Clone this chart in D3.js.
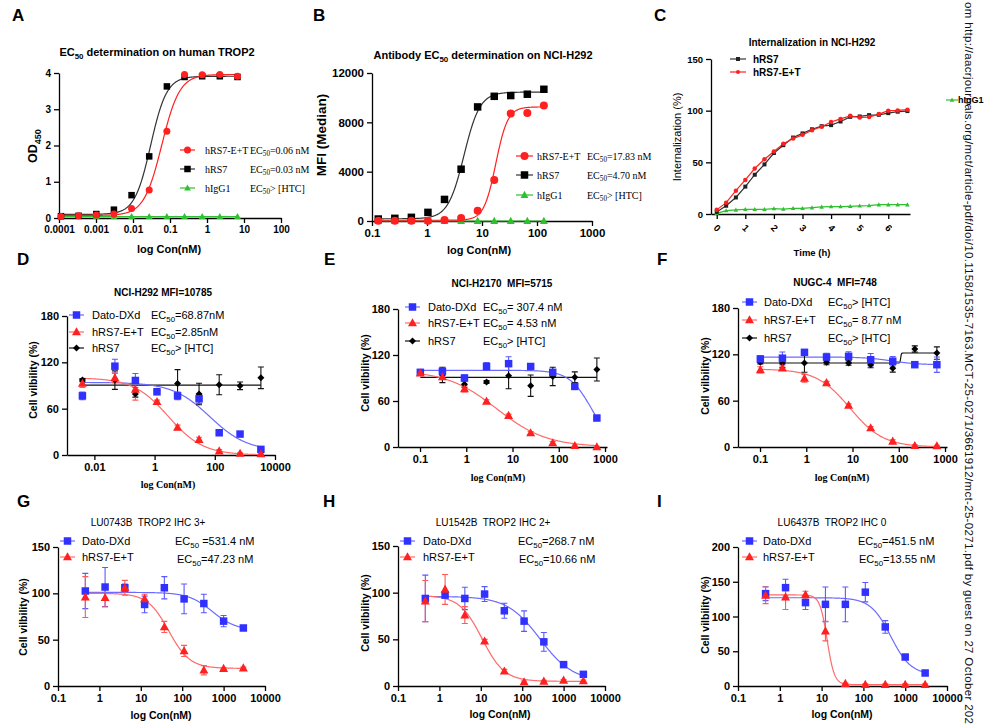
<!DOCTYPE html>
<html>
<head>
<meta charset="utf-8">
<script src="https://cdn.jsdelivr.net/npm/d3@7/dist/d3.min.js"></script>
<style>
html,body{margin:0;padding:0;background:#fff;}
svg{display:block;}
</style>
</head>
<body>
<svg id="chart" width="1000" height="727"></svg>
<script>
// ================= DATA =================
// Panel A: ELISA on human TROP2
const concA = [0.000113, 0.000339, 0.00102, 0.00305, 0.00914, 0.0274, 0.0823, 0.247, 0.741, 2.22, 6.67];
const odA_hRS7ET = [0.04, 0.06, 0.08, 0.11, 0.26, 0.77, 2.39, 3.96, 3.95, 3.96, 3.91];
const odA_hRS7   = [0.05, 0.06, 0.11, 0.23, 0.63, 1.70, 3.63, 3.89, 3.91, 3.91, 3.89];
const odA_hIgG1  = [0.04, 0.04, 0.04, 0.04, 0.04, 0.04, 0.04, 0.04, 0.04, 0.04, 0.04];
// fit parameters: [low-conc plateau, high-conc plateau, EC50, Hill]
const fitA_hRS7ET = [0.07, 3.96, 0.06, 1.8];
const fitA_hRS7   = [0.10, 3.91, 0.03, 2.0];
const xTicksA = ["0.0001", "0.001", "0.01", "0.1", "1", "10", "100"];
const yTicksA = [0, 1, 2, 3, 4];
const legendA = ["hRS7-E+T", "hRS7", "hIgG1"];
const ecA = ["EC_{50}=0.06 nM", "EC_{50}=0.03 nM", "EC_{50}> [HTC]"];

// Panel B: FACS on NCI-H292
const concB = [0.13, 0.26, 0.52, 1.04, 2.08, 4.17, 8.33, 16.7, 33.3, 66.7, 133.3];
const mfiB_hRS7ET = [30, 30, 30, 30, 80, 240, 840, 3320, 8710, 8760, 9360];
const mfiB_hRS7   = [160, 216, 297, 700, 1750, 4200, 9250, 10110, 10170, 10280, 10680];
const mfiB_hIgG1  = [0, 0, 0, 0, 0, 0, 0, 0, 0, 0, 0];
const fitB_hRS7ET = [60, 9250, 17.83, 4.0];
const fitB_hRS7   = [180, 10450, 4.70, 3.0];
const xTicksB = ["0.1", "1", "10", "100", "1000"];
const yTicksB = [0, 4000, 8000, 12000];
const legendB = ["hRS7-E+T", "hRS7", "hIgG1"];
const ecB = ["EC_{50}=17.83 nM", "EC_{50}=4.70 nM", "EC_{50}> [HTC]"];

// Panel C: internalization
const timeC = [0, 0.33, 0.67, 1, 1.33, 1.67, 2, 2.33, 2.67, 3, 3.33, 3.67, 4, 4.33, 4.67, 5, 5.33, 5.67, 6, 6.33, 6.67];
const intC_hRS7   = [2, 8, 16, 26.5, 38, 48, 59, 66.6, 74, 78, 82, 85, 86, 89.5, 94, 94.4, 95.7, 96, 97.6, 99, 99.6];
const intC_hRS7ET = [4, 11, 22.6, 33, 44, 53, 60.5, 68, 73, 76.6, 81, 84.4, 89, 92, 95, 93.4, 93.8, 96.7, 100, 100.2, 101];
const intC_hIgG1  = [0.6, 3.2, 3.9, 4.5, 4.5, 4.5, 5.2, 4.8, 5.5, 5.5, 6.1, 6.8, 7.1, 7.1, 7.4, 7.8, 8.1, 9, 9, 9, 9];
const xTicksC = ["0", "1", "2", "3", "4", "5", "6"];
const yTicksC = [0, 50, 100, 150];
const legendC = ["hRS7", "hRS7-E+T", "hIgG1"];

// Panel D: NCI-H292 cytotoxicity
const concD = [0.004, 0.048, 0.23, 1.2, 5.8, 30, 140, 690, 3400];
const vD_dato   = [76.6, 115, 96.5, 81.8, 76.6, 72.8, 28.8, 27.1, 7.3];
const eD_dato   = [5, 9, 9, 2, 5, 6, 2, 2, 2];
const vD_hRS7ET = [92.6, 100, 85, 69, 35.7, 20, 5, 2, 1.3];
const eD_hRS7ET = [5, 6, 14, 2, 3, 3, 2, 1, 1];
const vD_hRS7   = [97, 97, 79, 83, 92.6, 79, 91, 89.6, 100];
const eD_hRS7   = [2, 12, 4, 3, 18, 14, 13, 5, 14];
const fitD_dato   = [94, 5, 68.87, 0.7];
const fitD_hRS7ET = [100, 0, 2.85, 0.75];
const fitD_hRS7   = [90.4, 90.4, 1, 1];
const xTicksD = ["0.01", "1", "100", "10000"];
const yTicksDEF = [0, 60, 120, 180];
const legendDEF = ["Dato-DXd", "hRS7-E+T", "hRS7"];
const ecD = ["EC_{50}=68.87nM", "EC_{50}=2.85nM", "EC_{50}> [HTC]"];

// Panel E: NCI-H2170 cytotoxicity
const concEF = [0.1016, 0.305, 0.914, 2.743, 8.23, 24.69, 74.07, 222.2, 666.7];
const vE_dato   = [97.4, 98.7, 90, 105, 108.7, 105, 97.4, 79, 37.8];
const eE_dato   = [2, 4, 4, 5, 9, 2, 3, 3, 2];
const vE_hRS7ET = [96.5, 91.3, 75.7, 59.6, 40.9, 18.3, 5.2, 1.7, 0];
const eE_hRS7ET = [2, 3, 4, 2, 2, 2, 2, 1, 1];
const vE_hRS7   = [97, 94, 82, 84.8, 93, 80, 92, 91, 101];
const eE_hRS7   = [0, 10, 4, 2, 17, 14, 12, 7, 15];
const fitE_dato   = [100, 0, 510, 1.8];
const fitE_hRS7ET = [100, 0, 4.53, 0.8];
const fitE_hRS7   = [90.9, 90.9, 1, 1];
const xTicksEF = ["0.1", "1", "10", "100", "1000"];
const ecE = ["EC_{50}= 307.4 nM", "EC_{50}= 4.53 nM", "EC_{50}> [HTC]"];

// Panel F: NUGC-4 cytotoxicity
const vF_dato   = [114, 115, 122.6, 116.5, 117.4, 113, 111, 106.6, 106.6];
const eF_dato   = [4, 8, 3, 5, 6, 8, 6, 2, 10];
const vF_hRS7ET = [100, 102, 89, 83, 54, 24.6, 7.3, 1.7, 1.3];
const eF_hRS7ET = [4, 3, 5, 2, 2, 2, 2, 1, 1];
const vF_hRS7   = [109.6, 108.8, 108.8, 109.6, 108.8, 106.6, 102, 126.9, 121.7];
const eF_hRS7   = [2, 6, 12, 3, 3, 4, 5, 4, 8];
const fitF_dato   = [116.5, 106.5, 70, 1.5];
const fitF_hRS7ET = [101, 0, 8.77, 1.2];
const fitF_hRS7   = [108.8, 121.7, 110, 60];
const ecF = ["EC_{50}> [HTC]", "EC_{50}= 8.77 nM", "EC_{50}> [HTC]"];

// Panels G, H, I: PDX-derived cells
const concGHI = [0.457, 1.372, 4.115, 12.35, 37.04, 111.1, 333.3, 1000, 3000];
const vG_dato   = [102.5, 106.8, 106, 88, 106, 94, 89, 70, 62.6];
const eG_dato   = [19, 21, 4, 9, 12, 16, 10, 6, 2];
const vG_hRS7ET = [96, 95.3, 106, 94, 63.7, 37.8, 17, 18.7, 19.4];
const eG_hRS7ET = [22, 10, 8, 5, 6, 6, 5, 1, 1];
const fitG_dato   = [101, 60, 531.4, 1.5];
const fitG_hRS7ET = [100, 19, 47.23, 1.7];
const ecG = ["EC_{50} =531.4 nM", "EC_{50}=47.23 nM"];

const vH_dato   = [93.8, 97.4, 93.8, 98.5, 80.6, 69.5, 47.3, 22.9, 12.5];
const eH_dato   = [25, 3, 12, 8, 8, 11, 10, 3, 3];
const vH_hRS7ET = [91, 103.5, 76, 48, 15.8, 4.3, 5, 6, 5.4];
const eH_hRS7ET = [22, 16, 9, 2, 2, 1, 1, 1, 1];
const fitH_dato   = [96, 5, 268.7, 1.1];
const fitH_hRS7ET = [97, 5, 10.66, 1.6];
const ecH = ["EC_{50}=268.7 nM", "EC_{50}=10.66 nM"];

const vI_dato   = [132.9, 141.5, 120, 117.5, 117.5, 135, 85, 41.7, 18.7];
const eI_dato   = [10, 12, 10, 25, 25, 14, 9, 3, 2];
const vI_hRS7ET = [130.5, 128, 131.4, 79, 3.4, 2, 2, 2, 2];
const eI_hRS7ET = [12, 18, 5, 14, 1, 1, 1, 1, 1];
const fitI_dato   = [127, 16, 451.5, 1.8];
const fitI_hRS7ET = [131, 2, 13.55, 5];
const ecI = ["EC_{50}=451.5 nM", "EC_{50}=13.55 nM"];

const xTicksGHI = ["0.1", "1", "10", "100", "1000", "10000"];
const yTicksGH = [0, 50, 100, 150];
const yTicksI = [0, 50, 100, 150, 200];
const legendGHI = ["Dato-DXd", "hRS7-E+T"];

const titles = ["EC_{50} determination on human TROP2", "Antibody EC_{50} determination on NCI-H292",
  "Internalization in NCI-H292", "NCI-H292 MFI=10785", "NCI-H2170  MFI=5715", "NUGC-4  MFI=748",
  "LU0743B  TROP2 IHC 3+", "LU1542B  TROP2 IHC 2+", "LU6437B  TROP2 IHC 0"];
const panelLetters = ["A", "B", "C", "D", "E", "F", "G", "H", "I"];
const watermark = "om http://aacrjournals.org/mct/article-pdf/doi/10.1158/1535-7163.MCT-25-0271/3661912/mct-25-0271.pdf by guest on 27 October 202";

// ================= DRAWING =================
const SANS = "'Liberation Sans', Arial, Helvetica, sans-serif";
const SERIF = "'Liberation Serif', 'Times New Roman', serif";
const BLUE = "#3030ff", BLUE_L = "#6b6bff", BLUE_E = "#5a5aff";
const RED = "#ff2020", RED_L = "#ff6a6a", RED_E = "#ff5a5a";
const GREEN = "#2fc02f", BLACK = "#000000";

const svg = d3.select("#chart");
svg.append("rect").attr("width", 1000).attr("height", 727).attr("fill", "#fff");

function symPath(type, s) {
  const h = s / 2;
  switch (type) {
    case "square": return `M${-h},${-h}h${s}v${s}h${-s}Z`;
    case "circle": return `M${h},0A${h},${h} 0 1,1 ${-h},0A${h},${h} 0 1,1 ${h},0Z`;
    case "triangle": return `M0,${-s * 0.6}L${s * 0.56},${s * 0.42}L${-s * 0.56},${s * 0.42}Z`;
    case "diamond": return `M0,${-h}L${h},0L0,${h}L${-h},0Z`;
  }
  return "";
}

function addText(g, x, y, str, o) {
  o = o || {};
  const size = o.size || 11;
  const yy = o.raw ? y : y + size * 0.35;
  const t = g.append("text").attr("x", x).attr("y", yy)
    .attr("text-anchor", o.anchor || "start")
    .style("font-family", o.family || SANS).style("font-size", size + "px")
    .style("font-weight", o.weight || "normal").style("white-space", "pre")
    .attr("fill", o.fill || "#000");
  if (o.rotate) t.attr("transform", `rotate(${o.rotate},${x},${y})`);
  const parts = str.split(/_\{([^}]*)\}/);
  let shift = 0;
  parts.forEach((p, i) => {
    if (p === "") return;
    const ts = t.append("tspan").text(p);
    if (i % 2 === 1) { ts.style("font-size", (size * 0.72) + "px").attr("dy", size * 0.28); shift = size * 0.28; }
    else if (shift) { ts.attr("dy", -shift); shift = 0; }
  });
  return t;
}

function styleAxis(sel, fs) {
  sel.attr("font-family", null).attr("font-size", null);
  sel.select(".domain").attr("stroke", "#000").attr("stroke-width", 1.3);
  sel.selectAll(".tick line").attr("stroke", "#000").attr("stroke-width", 1.3);
  sel.selectAll(".tick text").style("font-size", fs + "px").style("font-weight", "bold")
    .style("font-family", SANS).attr("fill", "#000");
}

function drawPanel(p) {
  const g = svg.append("g");
  const x = (p.xLog ? d3.scaleLog() : d3.scaleLinear()).domain(p.xDom).range(p.xRange);
  const y = d3.scaleLinear().domain(p.yDom).range(p.yRange);
  const xVals = p.xTickLabels.map(Number);
  const xa = d3.axisBottom(x).tickValues(xVals).tickFormat(d => p.xTickLabels[xVals.indexOf(d)])
    .tickSizeInner(5).tickSizeOuter(0).tickPadding(3);
  const gx = g.append("g").attr("transform", `translate(0,${p.yRange[0]})`).call(xa);
  styleAxis(gx, p.tickFs);
  if (p.xRot) {
    gx.selectAll(".tick text").attr("text-anchor", "middle").attr("y", 14).attr("dy", "0.35em")
      .attr("transform", "rotate(45,0,14)");
  }
  const ya = d3.axisLeft(y).tickValues(p.yTicks).tickFormat(d3.format("d"))
    .tickSizeInner(5).tickSizeOuter(0).tickPadding(3);
  const gy = g.append("g").attr("transform", `translate(${p.xRange[0]},0)`).call(ya);
  styleAxis(gy, p.tickFs);

  const line = d3.line();
  // curves / connecting lines
  p.series.forEach(s => {
    let pts = null;
    if (s.fit) {
      const [lo, hi, ec, h] = s.fit;
      const [a, b] = d3.extent(s.x).map(Math.log10);
      pts = d3.range(401).map(i => {
        const xv = Math.pow(10, a + (b - a) * i / 400);
        return [x(xv), y(hi + (lo - hi) / (1 + Math.pow(xv / ec, h)))];
      });
    } else if (s.poly) {
      pts = s.x.map((xv, i) => [x(xv), y(s.y[i])]);
    }
    if (pts) g.append("path").attr("d", line(pts)).attr("fill", "none")
      .attr("stroke", s.lineColor).attr("stroke-width", s.lw || 1.2);
  });
  // error bars
  p.series.forEach(s => {
    if (!s.err) return;
    s.x.forEach((xv, i) => {
      const e = s.err[i]; if (!e) return;
      const cx = x(xv), y1 = y(s.y[i] - e), y2 = y(s.y[i] + e);
      g.append("path").attr("d", `M${cx},${y1}V${y2}M${cx - 3},${y1}H${cx + 3}M${cx - 3},${y2}H${cx + 3}`)
        .attr("stroke", s.errColor).attr("stroke-width", 1.1).attr("fill", "none");
    });
  });
  // markers
  p.series.forEach(s => {
    s.x.forEach((xv, i) => {
      g.append("path").attr("d", symPath(s.shape, s.size))
        .attr("transform", `translate(${x(xv)},${y(s.y[i])})`).attr("fill", s.color);
    });
  });
  // legend
  const L = p.legend;
  L.items.forEach((it, k) => {
    const s = p.series[it.si];
    const yy = it.y != null ? it.y : L.ys[k];
    const x0 = it.x0 != null ? it.x0 : L.x0, x1 = it.x1 != null ? it.x1 : L.x1;
    const tx = it.tx != null ? it.tx : L.tx;
    g.append("line").attr("x1", x0).attr("x2", x1).attr("y1", yy).attr("y2", yy)
      .attr("stroke", s.lineColor).attr("stroke-width", 1.2);
    g.append("path").attr("d", symPath(s.shape, L.msize || s.size))
      .attr("transform", `translate(${(x0 + x1) / 2},${yy})`).attr("fill", s.color);
    addText(g, tx, yy, it.label, { size: it.fs || L.fs, family: L.family, weight: L.weight });
    if (it.ec) {
      const ep = it.ecPos || [L.ex, yy];
      addText(g, ep[0], ep[1], it.ec, { size: L.fs, family: L.family, weight: L.weight });
    }
  });
  // texts
  addText(g, p.title[0], p.title[1], p.title[2], { size: p.title[3], weight: p.title[4], anchor: "middle" });
  addText(g, p.xTitle[0], p.xTitle[1], p.xTitle[2], { size: p.xTitle[3], weight: "bold", family: p.xTitle[4], anchor: "middle" });
  addText(g, p.yTitle[0], p.yTitle[1], p.yTitle[2], { size: p.yTitle[3], weight: p.yTitle[4], anchor: "middle", rotate: -90 });
  addText(g, p.letter[0], p.letter[1], p.letter[2], { size: 17, weight: "bold", raw: true });
}

const logC = "log Con(nM)";
const cellV = "Cell vilbility (%)";

// ---- A ----
drawPanel({
  xLog: true, xDom: [1e-4, 100], xRange: [59, 281], yDom: [0, 4], yRange: [218, 73],
  xTickLabels: xTicksA, yTicks: yTicksA, tickFs: 10,
  series: [
    { x: concA, y: odA_hIgG1, poly: true, shape: "triangle", size: 6, color: GREEN, lineColor: GREEN },
    { x: concA, y: odA_hRS7, fit: fitA_hRS7, shape: "square", size: 6.5, color: BLACK, lineColor: "#333" },
    { x: concA, y: odA_hRS7ET, fit: fitA_hRS7ET, shape: "circle", size: 7, color: RED, lineColor: RED }
  ],
  legend: { x0: 180, x1: 195, tx: 205, ex: 250, ys: [150, 169, 188], fs: 10, family: SERIF, weight: "normal",
    items: [{ si: 2, label: legendA[0], ec: ecA[0] }, { si: 1, label: legendA[1], ec: ecA[1] }, { si: 0, label: legendA[2], ec: ecA[2] }] },
  title: [157, 52, titles[0], 11, "bold"],
  xTitle: [169, 249, logC, 11, SANS],
  yTitle: [33, 146, "OD_{450}", 12.5, "bold"],
  letter: [12, 21, panelLetters[0]]
});

// ---- B ----
drawPanel({
  xLog: true, xDom: [0.1, 1000], xRange: [372, 592], yDom: [0, 12000], yRange: [221, 73],
  xTickLabels: xTicksB, yTicks: yTicksB, tickFs: 11.5,
  series: [
    { x: concB, y: mfiB_hIgG1, poly: true, shape: "triangle", size: 7, color: GREEN, lineColor: GREEN },
    { x: concB, y: mfiB_hRS7, fit: fitB_hRS7, shape: "square", size: 7.5, color: BLACK, lineColor: "#333" },
    { x: concB, y: mfiB_hRS7ET, fit: fitB_hRS7ET, shape: "circle", size: 8, color: RED, lineColor: RED }
  ],
  legend: { x0: 516, x1: 533, tx: 537, ex: 587, ys: [156, 175, 195], fs: 10, family: SERIF, weight: "normal",
    items: [{ si: 2, label: legendB[0], ec: ecB[0] }, { si: 1, label: legendB[1], ec: ecB[1] }, { si: 0, label: legendB[2], ec: ecB[2] }] },
  title: [483, 55, titles[1], 11, "bold"],
  xTitle: [479, 250, logC, 11, SANS],
  yTitle: [321, 135, "MFI (Median)", 13.5, "bold"],
  letter: [313, 21, panelLetters[1]]
});

// ---- C ----
drawPanel({
  xLog: false, xDom: [-0.2, 6.76], xRange: [711, 910], yDom: [0, 150], yRange: [214, 59],
  xTickLabels: xTicksC, yTicks: yTicksC, tickFs: 9.5, xRot: true,
  series: [
    { x: timeC, y: intC_hIgG1, poly: true, shape: "triangle", size: 4, color: GREEN, lineColor: GREEN },
    { x: timeC, y: intC_hRS7, poly: true, shape: "square", size: 4, color: "#222", lineColor: "#333" },
    { x: timeC, y: intC_hRS7ET, poly: true, shape: "circle", size: 4.5, color: RED, lineColor: RED }
  ],
  legend: { x0: 730, x1: 746, tx: 753, ys: [59, 72], fs: 10, family: SANS, weight: "bold", msize: 4,
    items: [{ si: 1, label: legendC[0] }, { si: 2, label: legendC[1] },
      { si: 0, label: legendC[2], x0: 946, x1: 958, tx: 958, y: 100, fs: 9 }] },
  title: [812, 42, titles[2], 10, "bold"],
  xTitle: [812, 253, "Time (h)", 9.5, SANS],
  yTitle: [677, 137, "Internalization (%)", 11, "normal"],
  letter: [654, 21, panelLetters[2]]
});

function cytoSeries(conc, vd, ed, fd, vr, er, fr, vb, eb, fb) {
  const s = [
    { x: conc, y: vd, err: ed, fit: fd, shape: "square", size: 7.5, color: BLUE, lineColor: BLUE_L, errColor: BLUE_E },
    { x: conc, y: vr, err: er, fit: fr, shape: "triangle", size: 8, color: RED, lineColor: RED_L, errColor: RED_E }
  ];
  if (vb) s.unshift({ x: conc, y: vb, err: eb, fit: fb, shape: "diamond", size: 7, color: BLACK, lineColor: "#111", errColor: "#111" });
  return s;
}

// ---- D ----
drawPanel({
  xLog: true, xDom: [Math.pow(10, -2.91), 1e4], xRange: [67, 275], yDom: [0, 180], yRange: [455, 316],
  xTickLabels: xTicksD, yTicks: yTicksDEF, tickFs: 11,
  series: cytoSeries(concD, vD_dato, eD_dato, fitD_dato, vD_hRS7ET, eD_hRS7ET, fitD_hRS7ET, vD_hRS7, eD_hRS7, fitD_hRS7),
  legend: { x0: 69, x1: 84, tx: 92, ex: 151, ys: [315, 332, 348], fs: 11, family: SANS, weight: "normal",
    items: [{ si: 1, label: legendDEF[0], ec: ecD[0] }, { si: 2, label: legendDEF[1], ec: ecD[1] }, { si: 0, label: legendDEF[2], ec: ecD[2] }] },
  title: [163, 292, titles[3], 10, "bold"],
  xTitle: [168, 484, logC, 10, SERIF],
  yTitle: [33, 380, cellV, 10.5, "bold"],
  letter: [17, 265, panelLetters[3]]
});

// ---- E ----
drawPanel({
  xLog: true, xDom: [Math.pow(10, -1.476), Math.pow(10, 3.043)], xRange: [398, 607], yDom: [0, 180], yRange: [447, 309],
  xTickLabels: xTicksEF, yTicks: yTicksDEF, tickFs: 11,
  series: cytoSeries(concEF, vE_dato, eE_dato, fitE_dato, vE_hRS7ET, eE_hRS7ET, fitE_hRS7ET, vE_hRS7, eE_hRS7, fitE_hRS7),
  legend: { x0: 405, x1: 420, tx: 428, ex: 483, ys: [307, 323, 341], fs: 11, family: SANS, weight: "normal",
    items: [{ si: 1, label: legendDEF[0], ec: ecE[0] }, { si: 2, label: legendDEF[1], ec: ecE[1] }, { si: 0, label: legendDEF[2], ec: ecE[2] }] },
  title: [502, 283, titles[4], 10, "bold"],
  xTitle: [498, 477, logC, 10, SERIF],
  yTitle: [365, 373, cellV, 10.5, "bold"],
  letter: [324, 265, panelLetters[4]]
});

// ---- F ----
drawPanel({
  xLog: true, xDom: [Math.pow(10, -1.476), Math.pow(10, 3.043)], xRange: [738, 947], yDom: [0, 180], yRange: [447, 308],
  xTickLabels: xTicksEF, yTicks: yTicksDEF, tickFs: 11,
  series: cytoSeries(concEF, vF_dato, eF_dato, fitF_dato, vF_hRS7ET, eF_hRS7ET, fitF_hRS7ET, vF_hRS7, eF_hRS7, fitF_hRS7),
  legend: { x0: 742, x1: 757, tx: 764, ex: 828, ys: [302, 320, 338], fs: 11, family: SANS, weight: "normal",
    items: [{ si: 1, label: legendDEF[0], ec: ecF[0] }, { si: 2, label: legendDEF[1], ec: ecF[1] }, { si: 0, label: legendDEF[2], ec: ecF[2] }] },
  title: [835, 282, titles[5], 10, "bold"],
  xTitle: [842, 477, logC, 10, SERIF],
  yTitle: [705, 376, cellV, 10.5, "bold"],
  letter: [657, 265, panelLetters[5]]
});

// ---- G ----
drawPanel({
  xLog: true, xDom: [0.1, 1e4], xRange: [58, 265], yDom: [0, 150], yRange: [686, 547],
  xTickLabels: xTicksGHI, yTicks: yTicksGH, tickFs: 11,
  series: cytoSeries(concGHI, vG_dato, eG_dato, fitG_dato, vG_hRS7ET, eG_hRS7ET, fitG_hRS7ET),
  legend: { x0: 60, x1: 75, tx: 82, ys: [541, 557], fs: 11, family: SANS, weight: "normal",
    items: [{ si: 0, label: legendGHI[0], ec: ecG[0], ecPos: [175, 541] }, { si: 1, label: legendGHI[1], ec: ecG[1], ecPos: [177, 559] }] },
  title: [148, 522, titles[6], 10, "normal"],
  xTitle: [161, 715, logC, 10.5, SANS],
  yTitle: [23, 617, cellV, 10.5, "bold"],
  letter: [17, 507, panelLetters[6]]
});

// ---- H ----
drawPanel({
  xLog: true, xDom: [0.1, 1e4], xRange: [398, 605], yDom: [0, 150], yRange: [686, 546],
  xTickLabels: xTicksGHI, yTicks: yTicksGH, tickFs: 11,
  series: cytoSeries(concGHI, vH_dato, eH_dato, fitH_dato, vH_hRS7ET, eH_hRS7ET, fitH_hRS7ET),
  legend: { x0: 400, x1: 415, tx: 423, ys: [541, 557], fs: 11, family: SANS, weight: "normal",
    items: [{ si: 0, label: legendGHI[0], ec: ecH[0], ecPos: [518, 541] }, { si: 1, label: legendGHI[1], ec: ecH[1], ecPos: [519, 559] }] },
  title: [493, 522, titles[7], 10, "normal"],
  xTitle: [500, 714, logC, 10.5, SANS],
  yTitle: [365, 613, cellV, 10.5, "bold"],
  letter: [323, 507, panelLetters[7]]
});

// ---- I ----
drawPanel({
  xLog: true, xDom: [0.1, 1e4], xRange: [738, 947], yDom: [0, 200], yRange: [686, 547],
  xTickLabels: xTicksGHI, yTicks: yTicksI, tickFs: 11,
  series: cytoSeries(concGHI, vI_dato, eI_dato, fitI_dato, vI_hRS7ET, eI_hRS7ET, fitI_hRS7ET),
  legend: { x0: 742, x1: 757, tx: 763, ys: [541, 557], fs: 11, family: SANS, weight: "normal",
    items: [{ si: 0, label: legendGHI[0], ec: ecI[0], ecPos: [858, 541] }, { si: 1, label: legendGHI[1], ec: ecI[1], ecPos: [859, 559] }] },
  title: [832, 522, titles[8], 10, "normal"],
  xTitle: [842, 714, logC, 10.5, SANS],
  yTitle: [705, 615, cellV, 10.5, "bold"],
  letter: [657, 507, panelLetters[8]]
});

// ---- watermark (rotated download note) ----
svg.append("text").attr("x", 965).attr("y", 2)
  .attr("transform", "rotate(90,965,2)")
  .attr("textLength", 722).attr("lengthAdjust", "spacing")
  .style("font-family", SANS).style("font-size", "11.5px").attr("fill", "#111")
  .text(watermark);
</script>
</body>
</html>
